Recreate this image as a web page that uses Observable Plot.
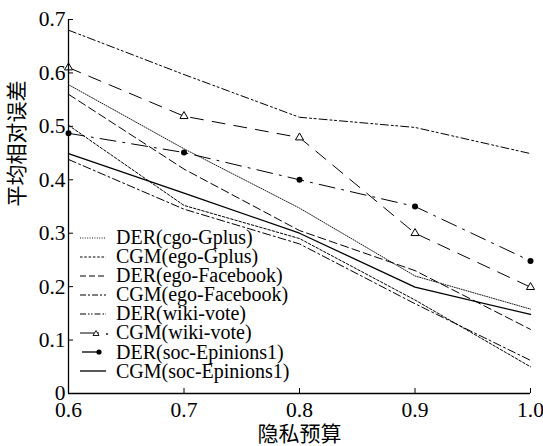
<!DOCTYPE html>
<html><head><meta charset="utf-8">
<script src="https://cdn.jsdelivr.net/npm/d3@7"></script>
<script src="https://cdn.jsdelivr.net/npm/@observablehq/plot@0.6"></script>
<style>
body{margin:0;background:#fff;}
#wrap{position:relative;width:543px;height:446px;}
#wrap svg g[aria-label$="tick label"]{font-size:21.5px;}
#legend{position:absolute;left:79px;top:228px;font-family:"Liberation Serif","Times New Roman",serif;font-size:20px;color:#000;}
#legend .row{height:19.1px;line-height:19.1px;display:flex;align-items:center;white-space:nowrap;}
#legend svg{width:32px;height:12px;margin-right:5px;flex:none;}
</style></head><body><div id="wrap"></div>
<script>
// ---- data ----
const budgets = [0.6, 0.7, 0.8, 0.9, 1.0];
const derGplus = [0.578, 0.458, 0.347, 0.220, 0.158];
const cgmGplus = [0.502, 0.352, 0.290, 0.175, 0.050];
const derFacebook = [0.560, 0.420, 0.305, 0.230, 0.120];
const cgmFacebook = [0.438, 0.345, 0.280, 0.168, 0.062];
const derWiki = [0.680, 0.597, 0.517, 0.498, 0.449];
const cgmWiki = [0.610, 0.519, 0.479, 0.300, 0.199];
const derSoc = [0.487, 0.451, 0.400, 0.350, 0.248];
const cgmSoc = [0.449, 0.375, 0.300, 0.199, 0.148];
const seriesNames = ["DER(cgo-Gplus)", "CGM(ego-Gplus)", "DER(ego-Facebook)", "CGM(ego-Facebook)",
  "DER(wiki-vote)", "CGM(wiki-vote)", "DER(soc-Epinions1)", "CGM(soc-Epinions1)"];
const seriesValues = [derGplus, cgmGplus, derFacebook, cgmFacebook, derWiki, cgmWiki, derSoc, cgmSoc];
const xTicks = [0.6, 0.7, 0.8, 0.9, 1.0];
const yTicks = [0, 0.1, 0.2, 0.3, 0.4, 0.5, 0.6, 0.7];
const xLabel = "隐私预算";
const yLabel = "平均相对误差";

// ---- styles ----
const styles = [
  {dash: "1,1.4", width: 0.9, marker: null},
  {dash: "2.5,1.8", width: 1, marker: null},
  {dash: "8,4", width: 1, marker: null},
  {dash: "8,3,2,3", width: 1, marker: null},
  {dash: "8,3,2,2.5,2,3", width: 1, marker: null},
  {dash: "13,9", width: 1, marker: "triangle"},
  {dash: "16,7,2,7", width: 1, marker: "dot"},
  {dash: null, width: 1.3, marker: null}
];

const rows = seriesNames.flatMap((name, i) => budgets.map((b, j) => ({series: name, idx: i, x: b, y: seriesValues[i][j]})));

const lineMarks = seriesNames.map((name, i) => Plot.line(rows.filter(d => d.idx === i), {
  x: "x", y: "y", stroke: "black", strokeWidth: styles[i].width,
  strokeDasharray: styles[i].dash || undefined, curve: "linear"
}));

const fontStack = '"Liberation Serif","Times New Roman",serif';
const cjk = '"Noto Sans CJK SC",sans-serif';

const plot = Plot.plot({
  width: 543, height: 446,
  marginLeft: 68, marginRight: 13, marginTop: 19, marginBottom: 53,
  x: {domain: [0.6, 1.0]},
  y: {domain: [0, 0.7]},
  style: {fontFamily: fontStack, fontSize: "21.5px", color: "black", background: "white"},
  marks: [
    ...lineMarks,
    Plot.dot(rows.filter(d => styles[d.idx].marker === "triangle"), {x: "x", y: "y", symbol: "triangle", r: 3, stroke: "black", fill: "white", strokeWidth: 1}),
    Plot.dot(rows.filter(d => styles[d.idx].marker === "dot"), {x: "x", y: "y", r: 3, fill: "black"}),
    Plot.ruleX([0.6], {stroke: "black", strokeWidth: 1.3}),
    Plot.ruleY([0], {stroke: "black", strokeWidth: 1.3}),
    Plot.axisX({ticks: xTicks, tickSize: -5, tickPadding: 13, tickFormat: d => d.toFixed(1), label: null, fontSize: 21.5}),
    Plot.axisY({ticks: yTicks, tickSize: -5, tickPadding: 8, tickFormat: d => d === 0 ? "0" : d.toFixed(1), label: null, fontSize: 21.5}),
    Plot.text([xLabel], {text: d => d, frameAnchor: "bottom", dy: 47, fontFamily: cjk, fontSize: 21}),
    Plot.text([yLabel], {text: d => d, frameAnchor: "left", dx: -51, rotate: -90, fontFamily: cjk, fontSize: 21})
  ]
});

const wrap = document.getElementById("wrap");
wrap.appendChild(plot);

// ---- legend ----
const legend = document.createElement("div");
legend.id = "legend";
seriesNames.forEach((name, i) => {
  const row = document.createElement("div");
  row.className = "row";
  const s = styles[i];
  let svg = `<svg viewBox="0 0 32 12"><line x1="1" y1="6" x2="${s.marker === "triangle" ? 20 : 27}" y2="6" stroke="black" stroke-width="${s.width}" ${s.dash && !s.marker ? `stroke-dasharray="${i===4 ? '6,2,1.5,1.5,1.5,2' : i===3 ? '6,2,2,2' : i===2 ? '6,3' : s.dash}"` : ""}/>`;
  if (s.marker === "triangle") svg += `<path d="M17,3.5 L20,8.5 L14,8.5 Z" fill="white" stroke="black" stroke-width="0.9"/><circle cx="28" cy="7" r="0.9" fill="black"/>`;
  if (s.marker === "dot") svg = `<svg viewBox="0 0 32 12"><line x1="3" y1="6" x2="20" y2="6" stroke="black" stroke-width="1.3"/><circle cx="20" cy="6" r="2.6" fill="black"/>`;
  svg += `</svg>`;
  row.innerHTML = svg + `<span>${name}</span>`;
  legend.appendChild(row);
});
wrap.appendChild(legend);
</script>
</body></html>
